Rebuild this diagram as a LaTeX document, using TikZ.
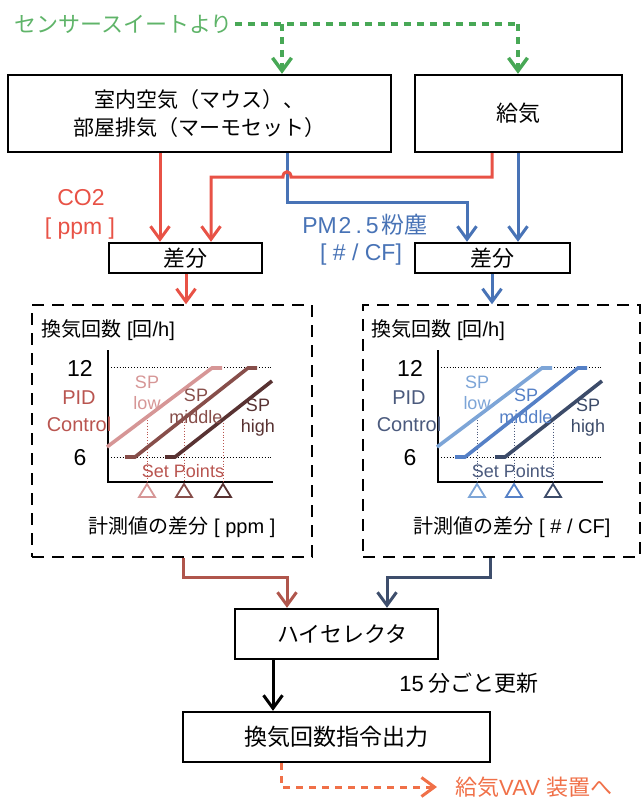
\documentclass[tikz,border=0pt]{standalone}
\usepackage{fontspec}
\setmainfont{Liberation Sans}
\newfontfamily\jp{Noto Sans CJK JP}
\usetikzlibrary{arrows.meta}
\definecolor{cGreen}{RGB}{72,168,86}
\definecolor{cGreenT}{RGB}{95,180,105}
\definecolor{cRed}{RGB}{232,82,70}
\definecolor{cBlue}{RGB}{72,115,182}
\definecolor{cBrown}{RGB}{176,86,76}
\definecolor{cNavy}{RGB}{62,78,108}
\definecolor{cOrange}{RGB}{240,112,72}
\definecolor{rLow}{RGB}{214,150,150}
\definecolor{rMid}{RGB}{135,78,74}
\definecolor{rHigh}{RGB}{88,50,50}
\definecolor{rTxt}{RGB}{185,85,80}
\definecolor{bLow}{RGB}{125,165,215}
\definecolor{bMid}{RGB}{85,128,198}
\definecolor{bHigh}{RGB}{60,75,105}
\definecolor{bTxt}{RGB}{75,90,125}
\newcommand\myfs[1]{\fontsize{#1}{#1}\selectfont}
\newcommand\mygraph[2]{%
  \node[anchor=west, font=\myfs{20}] (#2ylab) at (38,330) {{\jp 換気回数} [{\jp 回}/h]};
  \draw[line width=1.5pt] (108,350) -- (108,482) -- (273,482);
  \draw[dotted, line width=0.9pt] (108,367) -- (273,367) (108,457) -- (273,457);
  \node[font=\myfs{23}] (#2t12) at (80,368) {12};
  \node[font=\myfs{23}] (#2t6) at (80,458) {6};
  \node[gTxt, font=\fontsize{20}{27}\selectfont, align=center] (#2pid) at (79,411) {PID\\Control};
  \draw[gTxt, dotted, line width=0.9pt] (147,417) -- (147,482) (184,419) -- (184,482) (223,420) -- (223,482);
  \draw[gLow, line width=3.6pt] (107,447) -- (212,368) -- (222,368);
  \draw[gMid, line width=3.6pt] (125,457) -- (135,457) -- (248,368) -- (257,368);
  \draw[gHigh, line width=3.6pt] (165,457) -- (175,457) -- (272,381);
  \node[gLow, font=\fontsize{18}{21}\selectfont, align=center] (#2splow) at (147,392.5) {SP\\low};
  \node[gMid, font=\fontsize{18}{22}\selectfont, align=center] (#2spmid) at (196,406) {SP\\middle};
  \node[gHigh, font=\fontsize{18}{21}\selectfont, align=center] (#2sphigh) at (258,417.5) {SP\\high};
  \node[gTxt, font=\myfs{18}] (#2setp) at (183,471) {Set Points};
  \draw[gLow, line width=1.8pt] (147,484) -- (155,497) -- (139,497) -- cycle;
  \draw[gMid, line width=1.8pt] (184,484) -- (192,497) -- (176,497) -- cycle;
  \draw[gHigh, line width=1.8pt] (223,484) -- (231,497) -- (215,497) -- cycle;
  \node[font=\myfs{20}] (#2xlab) at (182,527) {{\jp 計測値の差分} #1};
}
\begin{document}
\begin{tikzpicture}[x=1pt,y=-1pt,
  box/.style={draw, line width=2.4pt, inner sep=0pt, align=center},
  dbox/.style={draw, line width=1.5pt, dash pattern=on 12pt off 8pt, inner sep=0pt},
  barb/.style={-{Straight Barb[length=13pt,width=19pt]}},
  conn/.style={line width=3pt, barb},
  gdash/.style={line width=3.5pt, dash pattern=on 7pt off 6pt, cGreen},
  odash/.style={line width=3pt, dash pattern=on 7pt off 6pt, cOrange}]
\useasboundingbox (0,0) rectangle (644,800);
% top
\node[anchor=west, cGreenT, font=\jp\myfs{22}, inner sep=2pt] (src) at (12,24) {センサースイートより};
\node[box, minimum width=383pt, minimum height=77pt, font=\jp\fontsize{21}{28}\selectfont] (room) at (199.5,113.5) {室内空気（マウス）、\\部屋排気（マーモセット）};
\node[box, minimum width=207pt, minimum height=77pt, font=\jp\myfs{22}] (supply) at (518.5,113.5) {給気};
\coordinate (gj) at (282,24);
\draw[gdash] (src.east) -- (518,24);
\draw[gdash, barb] (518,24) -- (supply.north -| 518,0);
\draw[gdash, barb] (gj) -- (room.north -| gj);
% diff boxes
\node[box, minimum width=153pt, minimum height=30pt, font=\jp\myfs{22}] (d1) at (185.5,258) {差分};
\node[box, minimum width=155pt, minimum height=30pt, font=\jp\myfs{22}] (d2) at (492.5,258) {差分};
\draw[conn, cBlue] (room.south -| 287,0) -- (287,202) -- (467,202) -- (d2.north -| 467,0);
\draw[conn, cBlue] (supply.south -| 518,0) -- (d2.north -| 518,0);
\draw[conn, cRed] (room.south -| 160,0) -- (d1.north -| 160,0);
\draw[conn, cRed] (supply.south -| 492,0) -- (492,177) -- (291,177) .. controls (291,170) and (283,170) .. (283,177) -- (211,177) -- (d1.north -| 211,0);
\node[cRed, font=\myfs{23}] (co2) at (81,198) {CO2};
\node[cRed, font=\myfs{23}] (ppm) at (80,229) {[ ppm ]};
\node[cBlue, font=\myfs{23}] (pm) at (365,225) {PM\kern2pt2\kern4pt.\kern4pt5\kern3pt{\jp 粉塵}};
\node[cBlue, font=\myfs{23}] (cf) at (361,255) {[ \# / CF]};
% graph boxes
\node[dbox, minimum width=280pt, minimum height=252pt] (g1) at (172,431) {};
\node[dbox, minimum width=277pt, minimum height=252pt] (g2) at (501.5,431) {};
\draw[conn, cRed] (d1.south -| 186,0) -- (g1.north -| 186,0);
\draw[conn, cBlue] (d2.south -| 492,0) -- (g2.north -| 492,0);
\begin{scope}
\colorlet{gLow}{rLow}\colorlet{gMid}{rMid}\colorlet{gHigh}{rHigh}\colorlet{gTxt}{rTxt}
\mygraph{[ ppm ]}{a}
\end{scope}
\begin{scope}[xshift=330pt]
\colorlet{gLow}{bLow}\colorlet{gMid}{bMid}\colorlet{gHigh}{bHigh}\colorlet{gTxt}{bTxt}
\mygraph{[ \# / CF]}{b}
\end{scope}
% bottom
\node[box, minimum width=203pt, minimum height=50pt, font=\jp\myfs{22}] (hs) at (336.5,634) {\hspace{12pt}ハイセレクタ};
\node[box, minimum width=307pt, minimum height=50pt, font=\jp\myfs{23}] (out) at (336.5,737) {換気回数指令出力};
\draw[conn, cBrown] (g1.south -| 183,0) -- (183,577) -- (287,577) -- (hs.north -| 287,0);
\draw[conn, cNavy] (g2.south -| 490,0) -- (490,577) -- (387,577) -- (hs.north -| 387,0);
\draw[conn, black] (hs.south -| 273,0) -- (out.north -| 273,0);
\node[font=\myfs{22}] (upd) at (469,683) {15\kern5pt{\jp 分ごと更新}};
\node[anchor=west, cOrange, font=\myfs{22}, inner sep=0pt] (vav) at (455,787) {{\jp 給気}VAV {\jp 装置へ}};
\draw[odash, barb] (out.south -| 281,0) -- (281,787) -- (vav.west -| 437,0);
\end{tikzpicture}
\end{document}
